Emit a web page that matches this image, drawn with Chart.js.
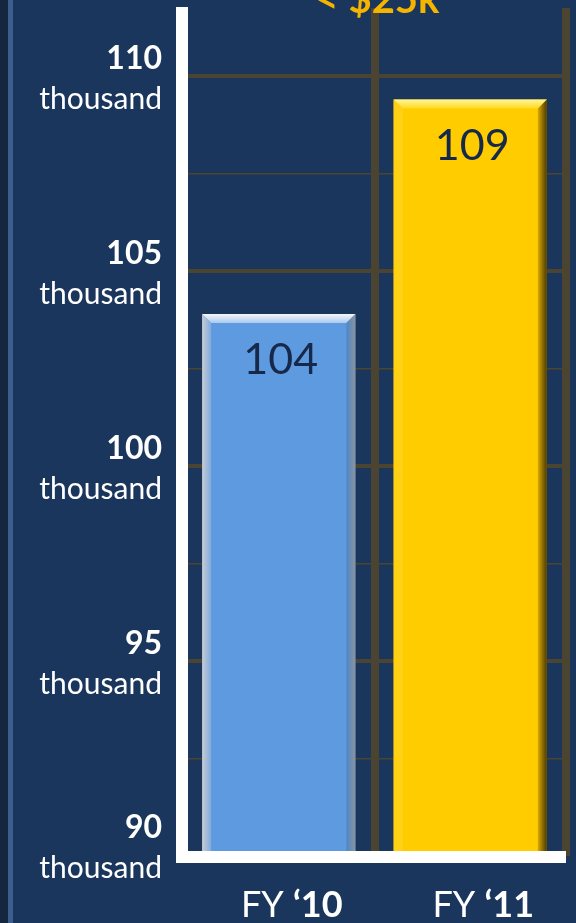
<!DOCTYPE html>
<html>
<head>
<meta charset="utf-8">
<script src="https://cdn.jsdelivr.net/npm/chart.js@4.4.1/dist/chart.umd.min.js"></script>
<style>
  html, body { margin: 0; padding: 0; background: #1a365c; }
  #wrap { width: 576px; height: 923px; }
</style>
</head>
<body>
<div id="wrap"><canvas id="c" width="576" height="923"></canvas></div>
<script>
// ----- data -----
const categories = ['FY \u201810', 'FY \u201811'];
const catPrefix = ['FY ', 'FY '];
const catSuffix = ['\u201810', '\u201811'];
const values = [103.9, 109.4];
const barColors = ['#5e9ae0', '#ffcc00'];
const tickValues = [90, 92.5, 95, 97.5, 100, 102.5, 105, 107.5, 110];
const tickUnit = 'thousand';
const titleText = '< $25k';

const GRID = '#4a4430';
const FONT = 'Lato, "Open Sans", sans-serif';

// 배경 + 왼쪽 띠
const bgPlugin = {
  id: 'bg',
  beforeDraw(chart) {
    const { ctx, width, height } = chart;
    ctx.save();
    ctx.fillStyle = '#1a365c';
    ctx.fillRect(0, 0, width, height);
    ctx.fillStyle = '#14273f';
    ctx.fillRect(0, 0, 8, height);
    ctx.fillStyle = '#3b5e8f';
    ctx.fillRect(8, 0, 5, height);
    ctx.restore();
  }
};

// 막대 베벨 효과
const bevelPlugin = {
  id: 'bevel',
  afterDatasetsDraw(chart) {
    const { ctx, chartArea } = chart;
    const meta = chart.getDatasetMeta(0);
    meta.data.forEach((bar, i) => {
      const w = bar.width, l = bar.x - w / 2, r = bar.x + w / 2;
      const t = bar.y, b = Math.min(bar.base, chartArea.bottom), s = 9;
      const blue = i === 0;
      ctx.save();
      // top
      let g = ctx.createLinearGradient(0, t, 0, t + s);
      g.addColorStop(0, blue ? '#f4f8fc' : '#fff59a');
      g.addColorStop(1, blue ? '#a9c8ee' : '#ffd91a');
      ctx.fillStyle = g;
      ctx.beginPath();
      ctx.moveTo(l, t); ctx.lineTo(r, t); ctx.lineTo(r - s, t + s); ctx.lineTo(l + s, t + s);
      ctx.closePath(); ctx.fill();
      // left
      g = ctx.createLinearGradient(l, 0, l + s, 0);
      g.addColorStop(0, blue ? '#c8ccd2' : '#ffcf10');
      g.addColorStop(1, blue ? '#7fa9df' : '#ffd21a');
      ctx.fillStyle = g;
      ctx.beginPath();
      ctx.moveTo(l, t); ctx.lineTo(l + s, t + s); ctx.lineTo(l + s, b); ctx.lineTo(l, b);
      ctx.closePath(); ctx.fill();
      // right
      g = ctx.createLinearGradient(r - s, 0, r, 0);
      g.addColorStop(0, blue ? '#4f86c8' : '#d9a800');
      g.addColorStop(1, blue ? '#8a949e' : '#4a3a00');
      ctx.fillStyle = g;
      ctx.beginPath();
      ctx.moveTo(r, t); ctx.lineTo(r, b); ctx.lineTo(r - s, b); ctx.lineTo(r - s, t + s);
      ctx.closePath(); ctx.fill();
      // value label
      ctx.fillStyle = '#17294a';
      ctx.font = '43px ' + FONT;
      ctx.textAlign = 'center';
      ctx.textBaseline = 'alphabetic';
      ctx.fillText(String(Math.round(values[i])), bar.x + 2, t + 60);
      ctx.restore();
    });
  }
};

// 흰색 축선 + 텍스트(축 레이블, 제목)
const axesPlugin = {
  id: 'axesText',
  afterDraw(chart) {
    const { ctx, chartArea: a, scales } = chart;
    ctx.save();
    ctx.fillStyle = '#ffffff';
    ctx.fillRect(a.left - 7, a.top - 1, 12, a.bottom - a.top + 8);
    ctx.fillRect(a.left - 7, a.bottom - 5, a.right - a.left + 7, 12);

    // y labels
    ctx.textAlign = 'right';
    ctx.textBaseline = 'alphabetic';
    tickValues.forEach((v, i) => {
      if (v % 5 !== 0) return;
      let y = scales.y.getPixelForValue(v);
      if (i === 0) y -= 11;
      ctx.font = 'bold 32px ' + FONT;
      ctx.fillText(String(v), 162, y - 7);
      ctx.font = '30px ' + FONT;
      ctx.fillText(tickUnit, 162, y + 33);
    });

    // x labels (FY 보통, '10 굵게)
    categories.forEach((c, i) => {
      const cx = scales.x.getPixelForValue(i) + 13;
      ctx.font = '36px ' + FONT;
      const w1 = ctx.measureText(catPrefix[i]).width;
      ctx.font = 'bold 36px ' + FONT;
      const w2 = ctx.measureText(catSuffix[i]).width;
      const x0 = cx - (w1 + w2) / 2;
      ctx.textAlign = 'left';
      ctx.font = '36px ' + FONT;
      ctx.fillText(catPrefix[i], x0, 917);
      ctx.font = 'bold 36px ' + FONT;
      ctx.fillText(catSuffix[i], x0 + w1, 917);
    });

    // 잘린 제목
    ctx.fillStyle = '#f5b400';
    ctx.textAlign = 'center';
    ctx.font = 'bold 40px ' + FONT;
    ctx.fillText(titleText, (a.left + a.right) / 2 + 3, 13);
    ctx.restore();
  }
};

new Chart(document.getElementById('c'), {
  type: 'bar',
  data: {
    labels: categories,
    datasets: [{
      data: values,
      backgroundColor: barColors,
      borderWidth: 0,
      barPercentage: 0.8,
      categoryPercentage: 1
    }]
  },
  options: {
    responsive: false,
    animation: false,
    layout: { padding: { left: 183, right: 10, top: 8, bottom: 67 } },
    plugins: { legend: { display: false }, tooltip: { enabled: false } },
    scales: {
      x: {
        ticks: { display: false },
        border: { display: false },
        grid: {
          offset: true,
          drawTicks: false,
          lineWidth: 8,
          color: c => c.index === 0 ? 'rgba(0,0,0,0)' : GRID
        }
      },
      y: {
        min: 90,
        max: 111.75,
        afterBuildTicks: s => { s.ticks = tickValues.map(v => ({ value: v })); },
        ticks: { display: false },
        border: { display: false },
        grid: {
          drawTicks: false,
          color: GRID,
          lineWidth: c => (c.tick && c.tick.value % 5 === 0) ? 4 : 1.5
        }
      }
    }
  },
  plugins: [bgPlugin, bevelPlugin, axesPlugin]
});
</script>
</body>
</html>
